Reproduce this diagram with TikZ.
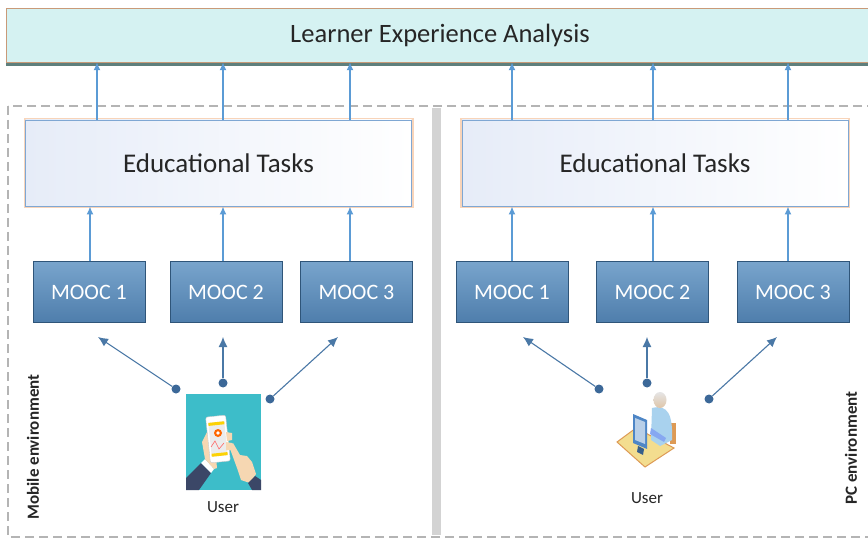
\documentclass[tikz,border=0pt]{standalone}
\usepackage{fontspec}
\setmainfont{Carlito}
\usetikzlibrary{arrows.meta}

\definecolor{barfill}{HTML}{D5F2F2}
\definecolor{barline}{HTML}{C99A78}
\definecolor{barshade}{HTML}{5E7F7C}
\definecolor{taskline}{HTML}{7FA7D3}
\definecolor{taskglow}{HTML}{F6C39C}
\definecolor{tasktint}{HTML}{E6ECF8}
\definecolor{mooctop}{HTML}{78A4CC}
\definecolor{moocbot}{HTML}{4F7EAC}
\definecolor{moocline}{HTML}{2F5579}
\definecolor{flowblue}{HTML}{5B9BD5}
\definecolor{linkblue}{HTML}{4A78A6}
\definecolor{dotblue}{HTML}{3C6898}
\definecolor{framegray}{HTML}{B4B4B4}
\definecolor{splitgray}{HTML}{D3D3D3}
\definecolor{inktext}{HTML}{262626}
\definecolor{phoneteal}{HTML}{3DBDC9}
\definecolor{skin}{HTML}{F6D7B2}
\definecolor{sleeve}{HTML}{3B4767}
\definecolor{deskyellow}{HTML}{F3DD8F}
\definecolor{deskedge}{HTML}{DD9A55}
\definecolor{bodyblue}{HTML}{A9D2EE}
\definecolor{screenblue}{HTML}{4E86C6}

\begin{document}
\begin{tikzpicture}[x=1pt,y=-1pt]
\tikzstyle{topbar}=[draw=barline,fill=barfill,minimum width=868,minimum height=54,
  inner sep=0pt,text=inktext,font=\fontsize{26.5}{30}\selectfont]
\tikzstyle{task}=[draw=taskline,line width=0.8pt,left color=tasktint,right color=white,
  minimum width=386,minimum height=86,inner sep=0pt,text=inktext,
  font=\fontsize{27}{31}\selectfont]
\tikzstyle{mooc}=[draw=moocline,line width=1pt,top color=mooctop,bottom color=moocbot,
  minimum width=112,minimum height=60,inner sep=0pt,text=white,
  font=\fontsize{22}{25}\selectfont]
\tikzstyle{flow}=[flowblue,line width=1.5pt,-{Latex[length=8pt,width=7pt]}]
\tikzstyle{link}=[linkblue,line width=1.1pt,-{Latex[length=10pt,width=9pt]}]
\tikzstyle{dot}=[circle,fill=dotblue,inner sep=0pt,minimum size=9pt]
\tikzstyle{annot}=[text=inktext,font=\fontsize{17}{20}\selectfont]
\tikzstyle{env}=[text=inktext,font=\fontsize{17}{20}\selectfont\bfseries,rotate=90]

\clip (0,0) rectangle (868,540);
\fill[white] (0,0) rectangle (868,540);

% Both environments share one dashed frame, split by a grey bar
\draw[framegray,line width=1.2pt,dash pattern=on 9pt off 5pt] (8,106) rectangle (900,537);
\fill[splitgray] (432,108) rectangle (441,535);

% Analysis bar along the top
\fill[barshade] (6,10) rectangle (880,66);
\node[topbar] (lea) at (440,35) {Learner Experience Analysis};

% Educational task layers
\foreach \side/\x in {l/218.5,r/655}{
  \draw[taskglow,line width=4pt,opacity=0.7] (\x-193,120) rectangle (\x+193,206);
  \node[task] (et\side) at (\x,163) {Educational Tasks};
}

% MOOC boxes, three per environment
\foreach \i/\x in {1/89,2/226,3/356.5}
  \node[mooc] (ml-\i) at (\x,292) {MOOC \i};
\foreach \i/\x in {1/512,2/652.5,3/793}
  \node[mooc] (mr-\i) at (\x,292) {MOOC \i};

% MOOC -> tasks -> analysis
\foreach \i/\x/\y in {1/90/97,2/223/223,3/350/350}{
  \coordinate (pl-\i) at (\x,0);
  \coordinate (ql-\i) at (\y,0);
  \draw[flow] (pl-\i |- ml-\i.north) -- (pl-\i |- etl.south);
  \draw[flow] (ql-\i |- etl.north) -- (ql-\i |- lea.south);
}
\foreach \i/\x in {1/512,2/653,3/788}{
  \coordinate (pr-\i) at (\x,0);
  \draw[flow] (pr-\i |- mr-\i.north) -- (pr-\i |- etr.south);
  \draw[flow] (pr-\i |- etr.north) -- (pr-\i |- lea.south);
}

% User links to the MOOCs
\foreach \i/\x/\y/\t in {1/176/389/98,2/223/383/223,3/270/399/338}{
  \node[dot] (ul-\i) at (\x,\y) {};
  \coordinate (tl-\i) at (\t,337);
  \draw[link] (ul-\i) -- (tl-\i);
}
\foreach \i/\x/\y/\t in {1/599/389/523,2/647/383/647,3/709/399/777}{
  \node[dot] (ur-\i) at (\x,\y) {};
  \coordinate (tr-\i) at (\t,337);
  \draw[link] (ur-\i) -- (tr-\i);
}

% Mobile user: hands holding a phone
\fill[phoneteal] (186,394) rectangle (261,490);
\fill[sleeve] (186,490) -- (186,478) -- (201,463) -- (211,473) -- (199,490) -- cycle;
\fill[white] (201,463) -- (205,459) -- (214,469) -- (211,473) -- cycle;
\fill[skin] (205,459) -- (202,442) -- (207,432) -- (214,436) -- (217,468) -- (214,469) -- cycle;
\fill[white,draw=gray!40,rounded corners=2pt,rotate around={6:(218,439)}] (208,416) rectangle (228,462);
\fill[gray!15,rotate around={6:(218,439)}] (210,422) rectangle (226,456);
\fill[yellow!70!orange,rotate around={6:(218,439)}] (210,422) rectangle (226,425);
\fill[yellow!70!orange,rotate around={6:(218,439)}] (210,453) rectangle (226,456);
\fill[orange!80!red] (218,433) circle (4);
\fill[white] (218,433) circle (1.8);
\draw[red!60,line width=0.6pt] (211,447) -- (215,441) -- (219,449) -- (224,443);
\fill[skin] (226,432) -- (232,433) -- (232,440) -- (227,441) -- cycle;
\fill[skin] (226,442) -- (232,443) -- (231,450) -- (226,450) -- cycle;
\fill[skin] (229,446) -- (233,443) -- (240,455) -- (247,456) -- (252,462) -- (256,474)
  -- (250,483) -- (241,480) -- (237,468) -- cycle;
\fill[sleeve] (248,483) -- (255,476) -- (261,480) -- (261,490) -- (252,490) -- cycle;
\node[annot] (usrl) at (223,507) {User};

% PC user: person at a desk
\fill[deskyellow,draw=deskedge,line width=1pt] (617,442) -- (636,428) -- (674,448) -- (645,467) -- cycle;
\fill[deskedge] (670,423) rectangle (676,444);
\fill[bodyblue] (652,408) .. controls (668,404) and (673,415) .. (672,440) -- (660,446) -- (651,440) -- cycle;
\fill[bodyblue!80!blue] (651,428) -- (666,438) -- (664,442) -- (650,434) -- cycle;
\shade[top color=gray!20,bottom color=skin!80!gray] (660,400) ellipse (6.5 and 8);
\fill[screenblue] (633,414) -- (647,420) -- (647,449) -- (633,443) -- cycle;
\fill[screenblue!40!white] (635,418) -- (645,422) -- (645,444) -- (635,440) -- cycle;
\fill[screenblue!70!black] (638,446) -- (644,449) -- (643,455) -- (637,452) -- cycle;
\node[annot] (usrr) at (647,498) {User};

% Environment captions
\node[env] (mob) at (33,447) {Mobile environment};
\node[env] (pc) at (851,448) {PC environment};
\end{tikzpicture}
\end{document}
